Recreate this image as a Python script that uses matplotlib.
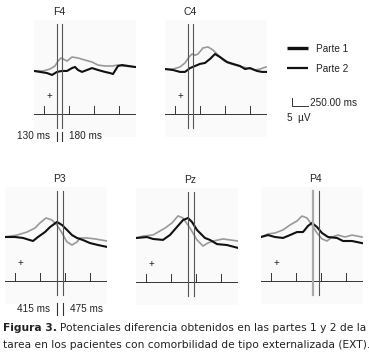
import matplotlib
matplotlib.use('Agg')
import matplotlib.pyplot as plt

plt.rcParams.update({'font.family': ['Liberation Sans', 'DejaVu Sans'], 'font.size': 7})

W, H = 369, 353
INK = '#222222'
C_P1, C_P2 = '#111111', '#999999'

# ---- data (time in ms, amplitude in uV) ----
f4_t1 = [-100, -40, 30, 80, 130, 180, 230, 280, 310, 340, 380, 430, 480, 540, 610, 660, 690, 740, 780, 910]
f4_v1 = [-0.6, -1.2, -1.9, -3.1, -1.2, -0.6, -0.6, 1.2, 1.9, 0.0, -1.2, 0.0, 1.2, 0.0, -1.2, -1.9, -2.5, 2.5, 3.1, 1.9]
f4_t2 = [-100, -10, 60, 110, 140, 170, 190, 230, 280, 340, 410, 480, 540, 610, 680, 740, 790, 910]
f4_v2 = [-0.6, -0.6, 0.6, 2.5, 5.6, 7.5, 6.9, 5.6, 8.1, 7.5, 6.2, 5.0, 3.1, 2.5, 2.5, 3.1, 2.5, 1.9]

c4_t1 = [-100, -20, 50, 100, 150, 200, 250, 300, 350, 400, 450, 520, 580, 650, 700, 750, 820, 870, 910]
c4_v1 = [0.6, 0.0, -1.2, -1.2, 1.2, 2.5, 3.8, 4.4, 6.9, 10.0, 8.1, 5.0, 3.8, 2.5, 0.6, 1.2, -0.6, -1.2, -1.2]
c4_t2 = [-100, -20, 50, 100, 140, 170, 200, 230, 280, 330, 380, 430, 480, 530, 600, 670, 730, 800, 850, 910]
c4_v2 = [0.6, 0.6, 1.9, 4.4, 8.1, 10.0, 9.2, 10.0, 13.8, 14.4, 12.5, 9.4, 6.2, 4.4, 3.1, 1.9, 1.2, 0.0, 0.6, 1.9]

p3_t1 = [-100, 0, 80, 180, 230, 300, 350, 420, 470, 520, 570, 620, 680, 750, 830, 920]
p3_v1 = [0.0, 0.0, -0.6, -2.5, 0.0, 3.1, 6.2, 9.4, 7.5, 4.4, 1.2, -0.6, -1.9, -3.8, -5.0, -6.2]
p3_t2 = [-100, 20, 120, 200, 250, 310, 370, 420, 470, 520, 570, 620, 650, 720, 800, 920]
p3_v2 = [0.0, 1.2, 3.1, 5.6, 8.8, 11.9, 10.6, 7.5, 2.5, -3.1, -5.0, -3.1, -0.6, -0.6, -1.2, -2.5]

pz_t1 = [-100, 10, 70, 170, 240, 310, 370, 420, 460, 510, 590, 640, 710, 810, 920]
pz_v1 = [0.0, 0.6, -0.6, -1.2, 1.9, 6.9, 11.2, 12.5, 10.0, 5.0, 0.0, -1.2, -3.8, -4.4, -6.2]
pz_t2 = [-100, -30, 70, 190, 260, 320, 370, 440, 510, 570, 620, 670, 770, 840, 920]
pz_v2 = [0.0, 1.2, 1.9, 6.2, 9.4, 13.8, 12.5, 6.2, -1.2, -5.0, -3.1, -1.9, -0.6, -1.2, -1.9]

p4_t1 = [-100, -30, 40, 120, 190, 260, 320, 370, 410, 460, 510, 570, 660, 720, 810, 910]
p4_v1 = [0.0, 1.2, 0.0, -0.6, 1.2, 3.1, 3.1, 6.9, 8.8, 6.2, 2.5, 0.0, -0.6, -2.5, -2.5, -3.8]
p4_t2 = [-100, -30, 40, 120, 190, 260, 310, 360, 410, 460, 510, 560, 610, 670, 740, 810, 910]
p4_v2 = [0.0, 1.9, 2.5, 4.4, 7.5, 10.0, 13.1, 11.9, 7.5, 2.5, -1.2, -2.5, 0.0, 1.2, 0.0, 1.2, 0.0]

lat_front = [130, 180]
lat_par = [415, 475]
tick_ms = [0, 250, 500, 750]

fig = plt.figure(figsize=(W / 100, H / 100), dpi=100)

YLO, YHI = -42, 31
UV_PX = 0.625  # uV per pixel


def panel(left_px, base_px, name, t1, v1, t2, v2, lats, grey_first=False):
    top = base_px - YHI / UV_PX
    bot = base_px - YLO / UV_PX
    ax = fig.add_axes([left_px / W, 1 - bot / H, 102 / W, (bot - top) / H])
    ax.set_xlim(-100, 920); ax.set_ylim(YLO, YHI)
    ax.set_facecolor('#fafafa')
    for s in ax.spines.values():
        s.set_visible(False)
    ax.set_xticks([]); ax.set_yticks([])
    ax.plot(t2, v2, color=C_P2, lw=1.2, zorder=3)
    ax.plot(t1, v1, color=C_P1, lw=1.5, zorder=4)
    # time axis
    ax.axhline(-27.5, color='#333333', lw=0.7)
    for tk in tick_ms:
        ax.plot([tk, tk], [-27.5, -22.5], color='#333333', lw=0.7)
    ax.text(50, -16.5, '+', ha='center', va='center', fontsize=7, color=INK)
    # latency markers
    for i, lt in enumerate(lats):
        if grey_first and i == 0:
            ax.plot([lt, lt], [29, -36.5], color='#aaaaaa', lw=1.6, zorder=5)
        else:
            ax.plot([lt, lt], [29, -36.5], color='#555555', lw=0.8, zorder=5)
    ax.text(sum(lats) / 2, 36, name, ha='center', va='center', fontsize=7.5,
            color=INK, clip_on=False)
    return ax


ax_f4 = panel(34, 70, 'F4', f4_t1, f4_v1, f4_t2, f4_v2, lat_front)
ax_c4 = panel(165, 70, 'C4', c4_t1, c4_v1, c4_t2, c4_v2, lat_front)
ax_p3 = panel(5, 237, 'P3', p3_t1, p3_v1, p3_t2, p3_v2, lat_par)
ax_pz = panel(136, 238, 'Pz', pz_t1, pz_v1, pz_t2, pz_v2, lat_par)
ax_p4 = panel(261, 237, 'P4', p4_t1, p4_v1, p4_t2, p4_v2, lat_par, grey_first=True)

# latency labels under F4 and P3
for ax, lats, y0, y1, ylab in [(ax_f4, lat_front, -39, -44.5, -41.5),
                               (ax_p3, lat_par, -41, -48.5, -45)]:
    for lt in lats:
        ax.plot([lt, lt], [y0, y1], color='#333333', lw=0.8, clip_on=False)
    ax.text(lats[0] - 70, ylab, f'{lats[0]} ms', ha='right', va='center', fontsize=7.2, color=INK)
    ax.text(lats[1] + 70, ylab, f'{lats[1]} ms', ha='left', va='center', fontsize=7.2, color=INK)

# overlay in pixel units for legend, scale and caption
ov = fig.add_axes([0, 0, 1, 1])
ov.set_xlim(0, W); ov.set_ylim(H, 0); ov.axis('off')

ov.plot([287, 308], [48, 48], color=C_P1, lw=2.4, solid_capstyle='butt')
ov.plot([287, 308], [68, 68], color=C_P1, lw=1.6, solid_capstyle='butt')
ov.text(316, 49, 'Parte 1', ha='left', va='center', fontsize=7.2, color=INK)
ov.text(316, 69, 'Parte 2', ha='left', va='center', fontsize=7.2, color=INK)

ov.plot([292, 292, 308], [98, 106, 106], color='#333333', lw=0.7)
ov.text(310, 103, '250.00 ms', ha='left', va='center', fontsize=7.2, color=INK)
ov.text(287, 118, '5  µV', ha='left', va='center', fontsize=7.2, color=INK)

# caption
cap_font = ['DejaVu Sans']
cap_fs = 7.7
bold = ov.text(3, 328, 'Figura 3.', ha='left', va='center', fontsize=cap_fs,
               fontweight='bold', family=cap_font, color=INK)
fig.canvas.draw()
bb = bold.get_window_extent()
x_after = bb.x1 + 3
ov.text(x_after, 328, 'Potenciales diferencia obtenidos en las partes 1 y 2 de la',
        ha='left', va='center', fontsize=cap_fs, family=cap_font, color=INK)
ov.text(3, 345, 'tarea en los pacientes con comorbilidad de tipo externalizada (EXT).',
        ha='left', va='center', fontsize=cap_fs, family=cap_font, color=INK)

fig.savefig('out.png', dpi=100)
